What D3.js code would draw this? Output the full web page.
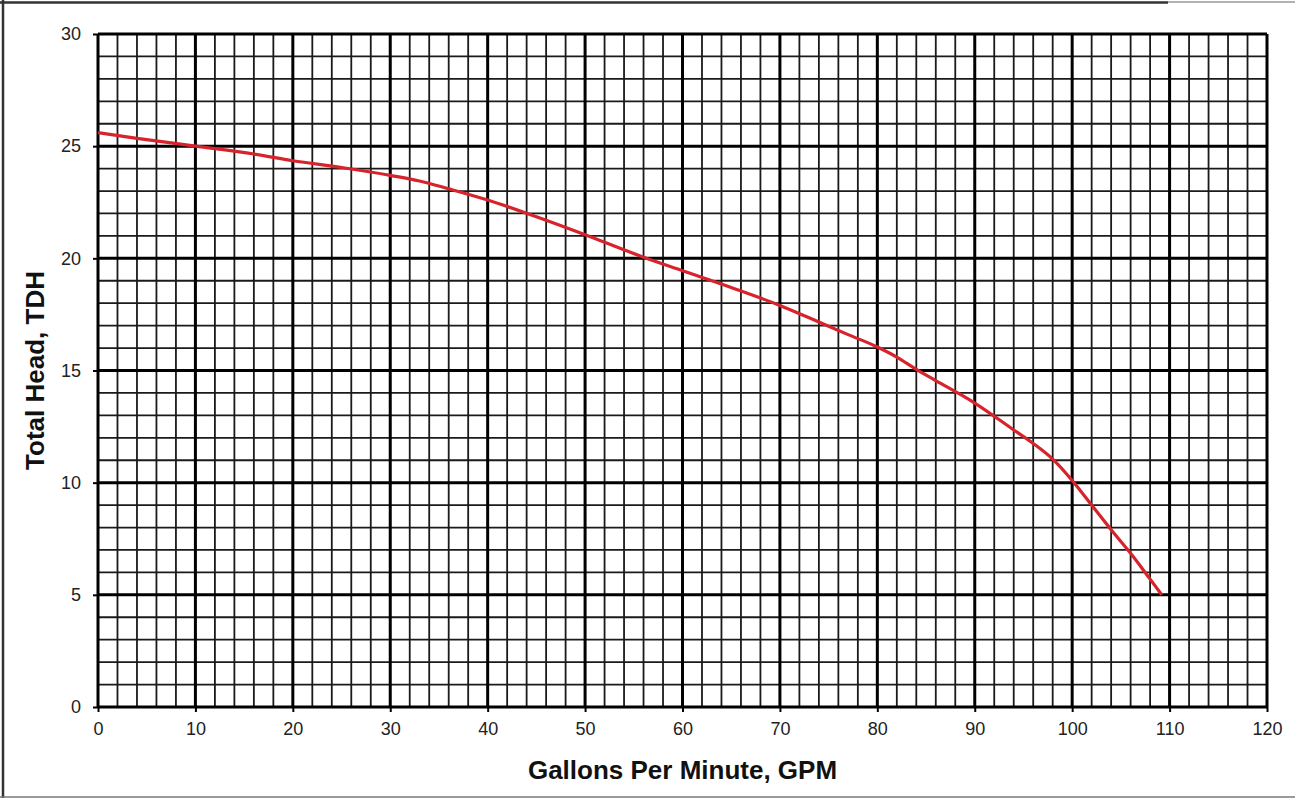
<!DOCTYPE html>
<html>
<head>
<meta charset="utf-8">
<script src="https://cdn.jsdelivr.net/npm/d3@7"></script>
<style>
  body { margin: 0; background: #fff; }
  svg { display: block; font-family: "Liberation Sans", Arial, sans-serif; }
</style>
</head>
<body>
<svg width="1295" height="799"></svg>
<script>
// pump curve
var gpm  = [0, 4, 10, 16, 20, 25, 30, 33, 36, 40, 45, 50, 56, 60, 65, 70, 73, 77, 80, 82, 84, 86, 90, 94, 96, 98, 100, 102, 104, 106, 108, 109.2];
var head = [25.6, 25.35, 25.0, 24.65, 24.35, 24.05, 23.7, 23.45, 23.1, 22.6, 21.85, 21.05, 20.05, 19.45, 18.7, 17.9, 17.35, 16.6, 16.05, 15.6, 15.05, 14.55, 13.55, 12.35, 11.75, 11.05, 10.1, 9.0, 7.9, 6.85, 5.7, 5.0];
var xTicks = [0, 10, 20, 30, 40, 50, 60, 70, 80, 90, 100, 110, 120];
var yTicks = [0, 5, 10, 15, 20, 25, 30];

var svg = d3.select("svg"),
    width = +svg.attr("width"),
    height = +svg.attr("height");

var pLeft = 98, pRight = 1267, pTop = 34, pBottom = 707;

var x = d3.scaleLinear().domain([0, 120]).range([pLeft, pRight]);
var y = d3.scaleLinear().domain([0, 30]).range([pBottom, pTop]);

// outer frame of the scanned page
svg.append("line").attr("x1", 3).attr("x2", 3).attr("y1", 0).attr("y2", 798)
    .style("stroke", "#333").attr("stroke-width", 2.5);
svg.append("line").attr("x1", 0).attr("x2", 1168).attr("y1", 2.5).attr("y2", 2.5)
    .style("stroke", "#333").attr("stroke-width", 2.5);
svg.append("line").attr("x1", 1168).attr("x2", width).attr("y1", 2).attr("y2", 2)
    .style("stroke", "#999").attr("stroke-width", 1.5);
svg.append("line").attr("x1", 0).attr("x2", width).attr("y1", 797).attr("y2", 797)
    .style("stroke", "#777").attr("stroke-width", 1.5);

// minor grid
var minorX = d3.range(0, 121, 2).filter(function(d) { return d % 10 != 0; });
var minorY = d3.range(0, 31, 1).filter(function(d) { return d % 5 != 0; });

var grid = svg.append("g").attr("class", "grid");
grid.selectAll("line.vminor").data(minorX).enter().append("line")
    .attr("x1", x).attr("x2", x).attr("y1", pTop).attr("y2", pBottom)
    .style("stroke", "#1a1a1a").attr("stroke-width", 1.8);
grid.selectAll("line.hminor").data(minorY).enter().append("line")
    .attr("x1", pLeft).attr("x2", pRight).attr("y1", y).attr("y2", y)
    .style("stroke", "#1a1a1a").attr("stroke-width", 1.8);

// major grid
grid.selectAll("line.vmajor").data(xTicks).enter().append("line")
    .attr("x1", x).attr("x2", x).attr("y1", pTop).attr("y2", pBottom)
    .style("stroke", "#000").attr("stroke-width", 3);
grid.selectAll("line.hmajor").data(yTicks).enter().append("line")
    .attr("x1", pLeft).attr("x2", pRight).attr("y1", y).attr("y2", y)
    .style("stroke", "#000").attr("stroke-width", 3);

// axes
var xAxis = svg.append("g")
    .attr("transform", "translate(0," + pBottom + ")")
    .call(d3.axisBottom(x).tickValues(xTicks).tickSize(5).tickPadding(10));
var yAxis = svg.append("g")
    .attr("transform", "translate(" + pLeft + ",0)")
    .call(d3.axisLeft(y).tickValues(yTicks).tickSize(5).tickPadding(12));

[xAxis, yAxis].forEach(function(a) {
    a.select(".domain").remove();
    a.selectAll(".tick line").style("stroke", "#000").attr("stroke-width", 2);
    a.selectAll(".tick text").style("fill", "#222")
        .style("font-size", "18px")
        .style("font-family", "'Liberation Sans', Arial, sans-serif");
});

// pump curve
var pts = gpm.map(function(g, i) { return [g, head[i]]; });
var line = d3.line()
    .x(function(d) { return x(d[0]); })
    .y(function(d) { return y(d[1]); })
    .curve(d3.curveMonotoneX);

svg.append("path")
    .datum(pts)
    .attr("d", line)
    .style("fill", "none")
    .style("stroke", "#d7232b")
    .attr("stroke-width", 3.2)
    .attr("stroke-linejoin", "round");

// titles
svg.append("text")
    .attr("x", (pLeft + pRight) / 2)
    .attr("y", 779)
    .attr("text-anchor", "middle")
    .style("font-weight", "bold")
    .style("font-size", "26px")
    .style("fill", "#111")
    .text("Gallons Per Minute, GPM");

svg.append("text")
    .attr("transform", "translate(44," + (pTop + pBottom) / 2 + ") rotate(-90)")
    .attr("text-anchor", "middle")
    .style("font-weight", "bold")
    .style("font-size", "26px")
    .style("fill", "#111")
    .text("Total Head, TDH");
</script>
</body>
</html>
